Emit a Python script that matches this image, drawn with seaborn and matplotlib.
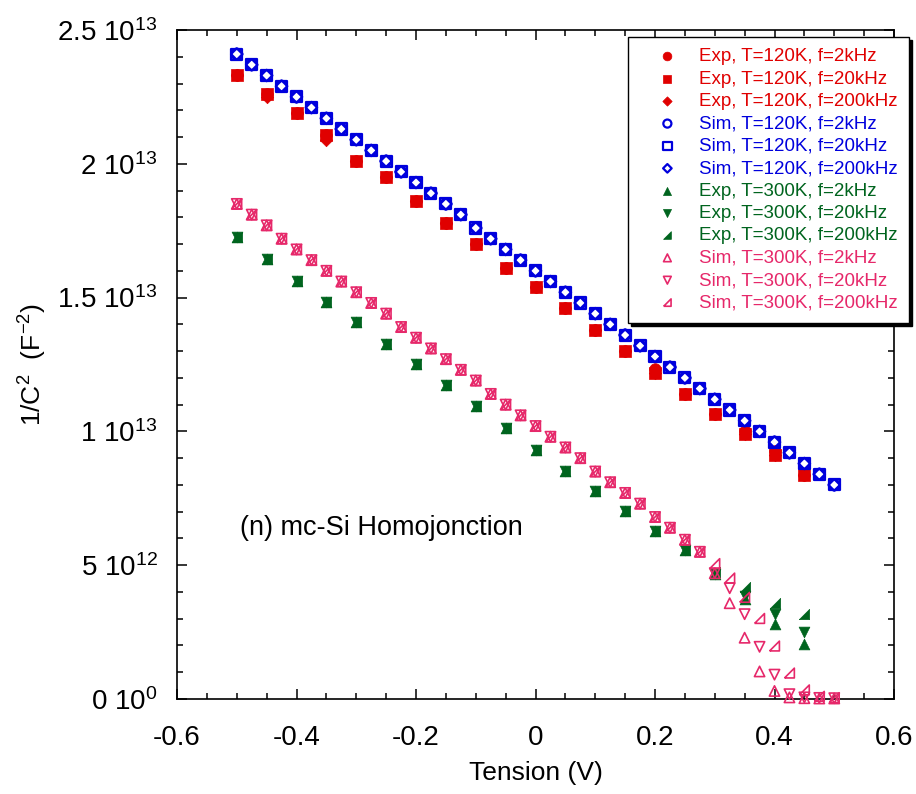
import numpy as np
import matplotlib
matplotlib.use('Agg')
import matplotlib.pyplot as plt
from matplotlib.ticker import MultipleLocator
import seaborn as sns

# bias voltages (V)
v_exp = [-0.5, -0.45, -0.4, -0.35, -0.3, -0.25, -0.2, -0.15, -0.1, -0.05,
         0.0, 0.05, 0.1, 0.15, 0.2, 0.25, 0.3, 0.35, 0.4, 0.45]
v_sim = [-0.5, -0.475, -0.45, -0.425, -0.4, -0.375, -0.35, -0.325, -0.3, -0.275,
         -0.25, -0.225, -0.2, -0.175, -0.15, -0.125, -0.1, -0.075, -0.05, -0.025,
         0.0, 0.025, 0.05, 0.075, 0.1, 0.125, 0.15, 0.175, 0.2, 0.225,
         0.25, 0.275, 0.3, 0.325, 0.35, 0.375, 0.4, 0.425, 0.45, 0.475, 0.5]

# 1/C^2 in units of 1e13 F^-2
# experiment, T=120K
exp120_2k = [2.33, 2.262, 2.19, 2.109, 2.01, 1.95, 1.86, 1.78, 1.70, 1.61,
             1.54, 1.46, 1.38, 1.30, 1.235, 1.14, 1.065, 1.0, 0.925, 0.838]
exp120_20k = [2.33, 2.262, 2.19, 2.109, 2.01, 1.95, 1.86, 1.78, 1.70, 1.61,
              1.54, 1.46, 1.38, 1.30, 1.22, 1.14, 1.065, 0.99, 0.913, 0.838]
exp120_200k = [2.33, 2.25, 2.19, 2.09, 2.01, 1.95, 1.86, 1.78, 1.70, 1.61,
               1.54, 1.46, 1.38, 1.30, 1.22, 1.14, 1.065, 0.99, 0.913, 0.838]

# simulation, T=120K (the three frequencies coincide)
sim120 = [2.41, 2.37, 2.33, 2.29, 2.25, 2.21, 2.17, 2.13, 2.09, 2.05,
          2.01, 1.97, 1.93, 1.89, 1.85, 1.81, 1.76, 1.72, 1.68, 1.64,
          1.60, 1.56, 1.52, 1.48, 1.44, 1.40, 1.36, 1.32, 1.28, 1.24,
          1.20, 1.16, 1.12, 1.08, 1.04, 1.00, 0.96, 0.92, 0.88, 0.84, 0.80]

# experiment, T=300K
exp300_2k = [1.725, 1.645, 1.562, 1.483, 1.408, 1.328, 1.253, 1.174, 1.094, 1.011,
             0.932, 0.853, 0.777, 0.702, 0.626, 0.555, 0.468, 0.375, 0.28, 0.205]
exp300_20k = [1.725, 1.645, 1.562, 1.483, 1.408, 1.328, 1.253, 1.174, 1.094, 1.011,
              0.932, 0.853, 0.777, 0.702, 0.626, 0.555, 0.468, 0.385, 0.318, 0.25]
exp300_200k = [1.725, 1.645, 1.562, 1.483, 1.408, 1.328, 1.253, 1.174, 1.094, 1.011,
               0.932, 0.853, 0.777, 0.702, 0.626, 0.555, 0.475, 0.418, 0.36, 0.318]

# simulation, T=300K
sim300_2k = [1.85, 1.81, 1.77, 1.72, 1.68, 1.64, 1.60, 1.56, 1.52, 1.48,
             1.44, 1.39, 1.35, 1.31, 1.27, 1.23, 1.19, 1.14, 1.10, 1.06,
             1.02, 0.98, 0.94, 0.90, 0.85, 0.81, 0.77, 0.73, 0.68, 0.64,
             0.595, 0.55, 0.47, 0.358, 0.229, 0.103, 0.03, 0.006, 0.003, 0.002, 0.002]
sim300_20k = [1.85, 1.81, 1.77, 1.72, 1.68, 1.64, 1.60, 1.56, 1.52, 1.48,
              1.44, 1.39, 1.35, 1.31, 1.27, 1.23, 1.19, 1.14, 1.10, 1.06,
              1.02, 0.98, 0.94, 0.90, 0.85, 0.81, 0.77, 0.73, 0.68, 0.64,
              0.595, 0.55, 0.47, 0.414, 0.317, 0.195, 0.091, 0.018, 0.006, 0.004, 0.003]
sim300_200k = [1.85, 1.81, 1.77, 1.72, 1.68, 1.64, 1.60, 1.56, 1.52, 1.48,
               1.44, 1.39, 1.35, 1.31, 1.27, 1.23, 1.19, 1.14, 1.10, 1.06,
               1.02, 0.98, 0.94, 0.90, 0.85, 0.81, 0.77, 0.73, 0.68, 0.64,
               0.595, 0.55, 0.506, 0.452, 0.38, 0.301, 0.198, 0.097, 0.034, 0.01, 0.005]

x_ticks = [-0.6, -0.4, -0.2, 0, 0.2, 0.4, 0.6]
x_ticklabels = ['-0.6', '-0.4', '-0.2', '0', '0.2', '0.4', '0.6']
y_ticks = [0, 0.5e13, 1e13, 1.5e13, 2e13, 2.5e13]
y_ticklabels = ['0 10$^{0}$', '5 10$^{12}$', '1 10$^{13}$',
                '1.5 10$^{13}$', '2 10$^{13}$', '2.5 10$^{13}$']

red = '#e00000'
blue = '#0000dd'
green = '#00641e'
pink = '#e6286a'

sns.set_style('ticks')
plt.rcParams['font.family'] = ['Liberation Sans', 'DejaVu Sans']
plt.rcParams['mathtext.fontset'] = 'custom'
plt.rcParams['mathtext.rm'] = 'Liberation Sans'
plt.rcParams['mathtext.it'] = 'Liberation Sans:italic'
plt.rcParams['mathtext.bf'] = 'Liberation Sans:bold'
plt.rcParams['text.color'] = 'black'
plt.rcParams['axes.labelcolor'] = 'black'
plt.rcParams['xtick.color'] = 'black'
plt.rcParams['ytick.color'] = 'black'

fig = plt.figure(figsize=(9.16, 7.94), dpi=100)
ax = fig.add_axes([177 / 916, 1 - 699 / 794, 717 / 916, 669 / 794])

# right triangle marker (200 kHz), closed so the open version draws all sides
rtri = [(-1, -1), (1, -1), (1, 1), (-1, -1)]


def draw(x, y, marker, color, label, s, filled=True, lw=1.0):
    y = np.array(y) * 1e13
    if filled:
        sns.scatterplot(x=x, y=y, marker=marker, s=s, color=color, edgecolor=color,
                        linewidth=lw, label=label, ax=ax, clip_on=False, zorder=3)
    else:
        sns.scatterplot(x=x, y=y, marker=marker, s=s, facecolors='none', edgecolor=color,
                        linewidth=lw, label=label, ax=ax, clip_on=False, zorder=3)


draw(v_exp, exp120_2k, 'o', red, 'Exp, T=120K, f=2kHz', 70, lw=0.5)
draw(v_exp, exp120_20k, 's', red, 'Exp, T=120K, f=20kHz', 64, lw=0.5)
draw(v_exp, exp120_200k, 'D', red, 'Exp, T=120K, f=200kHz', 40, lw=0.5)
draw(v_sim, sim120, 'o', blue, 'Sim, T=120K, f=2kHz', 60, filled=False, lw=1.6)
draw(v_sim, sim120, 's', blue, 'Sim, T=120K, f=20kHz', 64, filled=False, lw=1.6)
draw(v_sim, sim120, 'D', blue, 'Sim, T=120K, f=200kHz', 34, filled=False, lw=1.6)
draw(v_exp, exp300_2k, '^', green, 'Exp, T=300K, f=2kHz', 60, lw=0.5)
draw(v_exp, exp300_20k, 'v', green, 'Exp, T=300K, f=20kHz', 60, lw=0.5)
draw(v_exp, exp300_200k, rtri, green, 'Exp, T=300K, f=200kHz', 55, lw=0.5)
draw(v_sim, sim300_2k, '^', pink, 'Sim, T=300K, f=2kHz', 55, filled=False, lw=1.2)
draw(v_sim, sim300_20k, 'v', pink, 'Sim, T=300K, f=20kHz', 55, filled=False, lw=1.2)
draw(v_sim, sim300_200k, rtri, pink, 'Sim, T=300K, f=200kHz', 50, filled=False, lw=1.2)

ax.set_xlim(-0.6, 0.6)
ax.set_ylim(0, 2.5e13)
ax.set_xticks(x_ticks)
ax.set_xticklabels(x_ticklabels)
ax.set_yticks(y_ticks)
ax.set_yticklabels(y_ticklabels)
ax.xaxis.set_minor_locator(MultipleLocator(0.05))
ax.yaxis.set_minor_locator(MultipleLocator(0.1e13))
ax.tick_params(which='both', direction='in', top=True, right=True, width=1.1, color='black')
ax.tick_params(which='major', length=7.5)
ax.tick_params(which='minor', length=4)
ax.tick_params(axis='x', labelsize=20, pad=19)
ax.tick_params(axis='y', labelsize=20, pad=14)
for sp in ax.spines.values():
    sp.set_color('black')
    sp.set_linewidth(1.2)

ax.set_xlabel('Tension (V)', fontsize=19, labelpad=7)
ax.set_ylabel('1/C$^{2}$  (F$^{-2}$)', fontsize=19)
ax.yaxis.set_label_coords(-0.178, 0.5)

ax.text(-0.495, 0.64e13, '(n) mc-Si Homojonction', fontsize=19.5, ha='left', va='center')

leg = ax.legend(loc='upper left', bbox_to_anchor=(628 / 916, 1 - 37 / 794),
                bbox_transform=fig.transFigure, borderaxespad=0, fontsize=13.5,
                frameon=True, fancybox=False, shadow={'color': 'black', 'alpha': 1},
                edgecolor='black', framealpha=1, handlelength=3.0, handletextpad=0.2,
                labelspacing=0.28, borderpad=0.6, markerscale=0.75)
leg.get_frame().set_linewidth(1.0)
text_colors = [red] * 3 + [blue] * 3 + [green] * 3 + [pink] * 3
for t, c in zip(leg.get_texts(), text_colors):
    t.set_color(c)

fig.savefig('out.png', dpi=100)
